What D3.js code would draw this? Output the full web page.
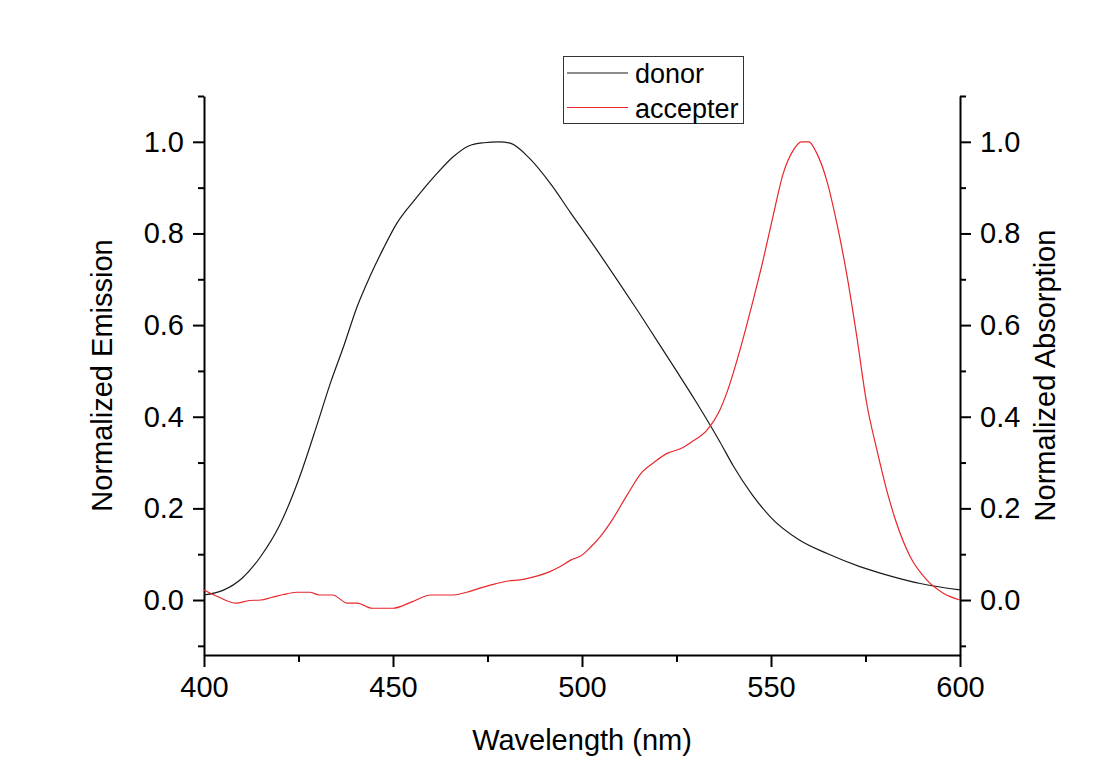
<!DOCTYPE html>
<html>
<head>
<meta charset="UTF-8">
<title>donor / accepter spectra</title>
<script src="https://cdn.jsdelivr.net/npm/d3@7"></script>
<style>
  body { margin: 0; background: #fff; }
  svg { display: block; font-family: "Liberation Sans", Arial, sans-serif; }
  .axis .domain { stroke: #000; stroke-width: 2px; }
  .axis line { stroke: #000; stroke-width: 2px; }
  .axis text { font-size: 29px; fill: #000; font-family: "Liberation Sans", Arial, sans-serif; }
  .title { font-size: 29px; fill: #000; }
  .legend text { font-size: 27px; fill: #000; }
</style>
</head>
<body>
<svg width="1100" height="776"></svg>
<script>
// donor emission
var donorNm  = [400, 405, 410, 415, 420, 425, 430, 433.5, 437, 440.5, 444, 447.5, 451, 456, 461, 466, 470, 474, 478, 481,
                486, 492, 497, 503, 510, 515, 520, 525, 530, 536.5, 540, 545, 550, 557.5, 565, 573.5, 580.5, 589.5, 600];
var donorVal = [0.011, 0.021, 0.047, 0.095, 0.163, 0.262, 0.385, 0.475, 0.555, 0.640, 0.708, 0.768, 0.822, 0.876, 0.925, 0.968, 0.991, 0.998, 1.0, 0.997,
                0.965, 0.905, 0.845, 0.775, 0.690, 0.628, 0.564, 0.500, 0.435, 0.345, 0.293, 0.230, 0.180, 0.131, 0.101, 0.073, 0.055, 0.036, 0.022];

// accepter absorption
var accNm  = [400, 404, 408.5, 412, 415, 418, 421, 424.5, 428, 430.5, 434, 438, 440.5, 444.5, 450, 455, 460, 466, 469.5, 473,
              476, 480, 484.5, 488, 491.5, 494, 497, 500, 502, 505, 508, 512, 516, 519, 522.5, 526, 529, 533, 536.5, 538.3,
              541.8, 545.3, 548, 550.6, 553.2, 556, 558, 560, 562, 564.7, 567.4, 570, 572.7, 575.3, 578, 580.6, 583.2, 586.8, 591.2, 595.6, 600];
var accVal = [0.022, 0.006, -0.007, -0.001, 0.0, 0.006, 0.012, 0.017, 0.017, 0.011, 0.011, -0.007, -0.007, -0.018, -0.018, -0.004, 0.011, 0.011, 0.017, 0.026,
              0.033, 0.041, 0.045, 0.052, 0.062, 0.072, 0.087, 0.098, 0.113, 0.140, 0.175, 0.230, 0.280, 0.300, 0.320, 0.330, 0.345, 0.370, 0.415, 0.452,
              0.546, 0.655, 0.745, 0.840, 0.930, 0.983, 1.0, 1.0, 0.977, 0.917, 0.823, 0.713, 0.575, 0.430, 0.328, 0.240, 0.168, 0.095, 0.044, 0.015, 0.0];

var xMajor = [400, 450, 500, 550, 600];
var xMinor = [425, 475, 525, 575];
var yMajor = [0.0, 0.2, 0.4, 0.6, 0.8, 1.0];
var yMinor = [-0.1, 0.1, 0.3, 0.5, 0.7, 0.9, 1.1];
var seriesNames = ["donor", "accepter"];
var seriesColors = ["#1a1a1a", "#e8262b"];

var svg = d3.select("svg"),
    margin = {top: 96, right: 140, bottom: 121, left: 204},
    width = +svg.attr("width") - margin.left - margin.right,
    height = +svg.attr("height") - margin.top - margin.bottom;

var g = svg.append("g").attr("transform", "translate(" + margin.left + "," + margin.top + ")");

var x = d3.scaleLinear().domain([400, 600]).range([0, width]);
var y = d3.scaleLinear().domain([-0.12, 1.1]).range([height, 0]);

var fmt = d3.format(".1f");

// minor ticks first, then major axes with the domain lines
g.append("g").attr("class", "axis").attr("transform", "translate(0," + height + ")")
    .call(d3.axisBottom(x).tickValues(xMinor).tickSize(7).tickSizeOuter(0).tickFormat(""))
    .select(".domain").remove();
g.append("g").attr("class", "axis")
    .call(d3.axisLeft(y).tickValues(yMinor).tickSize(6).tickSizeOuter(0).tickFormat(""))
    .select(".domain").remove();
g.append("g").attr("class", "axis").attr("transform", "translate(" + width + ",0)")
    .call(d3.axisRight(y).tickValues(yMinor).tickSize(6).tickSizeOuter(0).tickFormat(""))
    .select(".domain").remove();

g.append("g").attr("class", "axis").attr("transform", "translate(0," + height + ")")
    .call(d3.axisBottom(x).tickValues(xMajor).tickSize(12).tickSizeOuter(0).tickPadding(9).tickFormat(d3.format("d")));
g.append("g").attr("class", "axis")
    .call(d3.axisLeft(y).tickValues(yMajor).tickSize(11).tickSizeOuter(0).tickPadding(9).tickFormat(fmt));
g.append("g").attr("class", "axis").attr("transform", "translate(" + width + ",0)")
    .call(d3.axisRight(y).tickValues(yMajor).tickSize(11).tickSizeOuter(0).tickPadding(9).tickFormat(fmt));

var line = d3.line()
    .x(function (d) { return x(d[0]); })
    .y(function (d) { return y(d[1]); })
    .curve(d3.curveMonotoneX);

var series = [d3.zip(donorNm, donorVal), d3.zip(accNm, accVal)];

g.selectAll(".series")
    .data(series)
    .enter()
    .append("path")
    .attr("class", "series")
    .attr("fill", "none")
    .attr("stroke", function (d, i) { return seriesColors[i]; })
    .attr("stroke-width", 1.2)
    .attr("d", line);

// axis titles
svg.append("text").attr("class", "title")
    .attr("x", margin.left + width / 2).attr("y", 750)
    .attr("text-anchor", "middle")
    .text("Wavelength (nm)");

svg.append("text").attr("class", "title")
    .attr("transform", "translate(112," + (margin.top + height / 2) + ") rotate(-90)")
    .attr("text-anchor", "middle")
    .text("Normalized Emission");

svg.append("text").attr("class", "title")
    .attr("transform", "translate(1055," + (margin.top + height / 2) + ") rotate(-90)")
    .attr("text-anchor", "middle")
    .text("Normalized Absorption");

// legend
var legend = svg.append("g").attr("class", "legend");
legend.append("rect")
    .attr("x", 563.5).attr("y", 56.5).attr("width", 180).attr("height", 67)
    .attr("fill", "#fff").attr("stroke", "#333").attr("stroke-width", 1);

var item = legend.selectAll(".item")
    .data(seriesNames)
    .enter()
    .append("g")
    .attr("class", "item")
    .attr("transform", function (d, i) { return "translate(0," + (73 + i * 34.5) + ")"; });

item.append("line")
    .attr("x1", 567).attr("x2", 628)
    .attr("stroke", function (d, i) { return seriesColors[i]; })
    .attr("stroke-width", 1.2);

item.append("text")
    .attr("x", 635).attr("y", 10)
    .text(function (d) { return d; });
</script>
</body>
</html>
